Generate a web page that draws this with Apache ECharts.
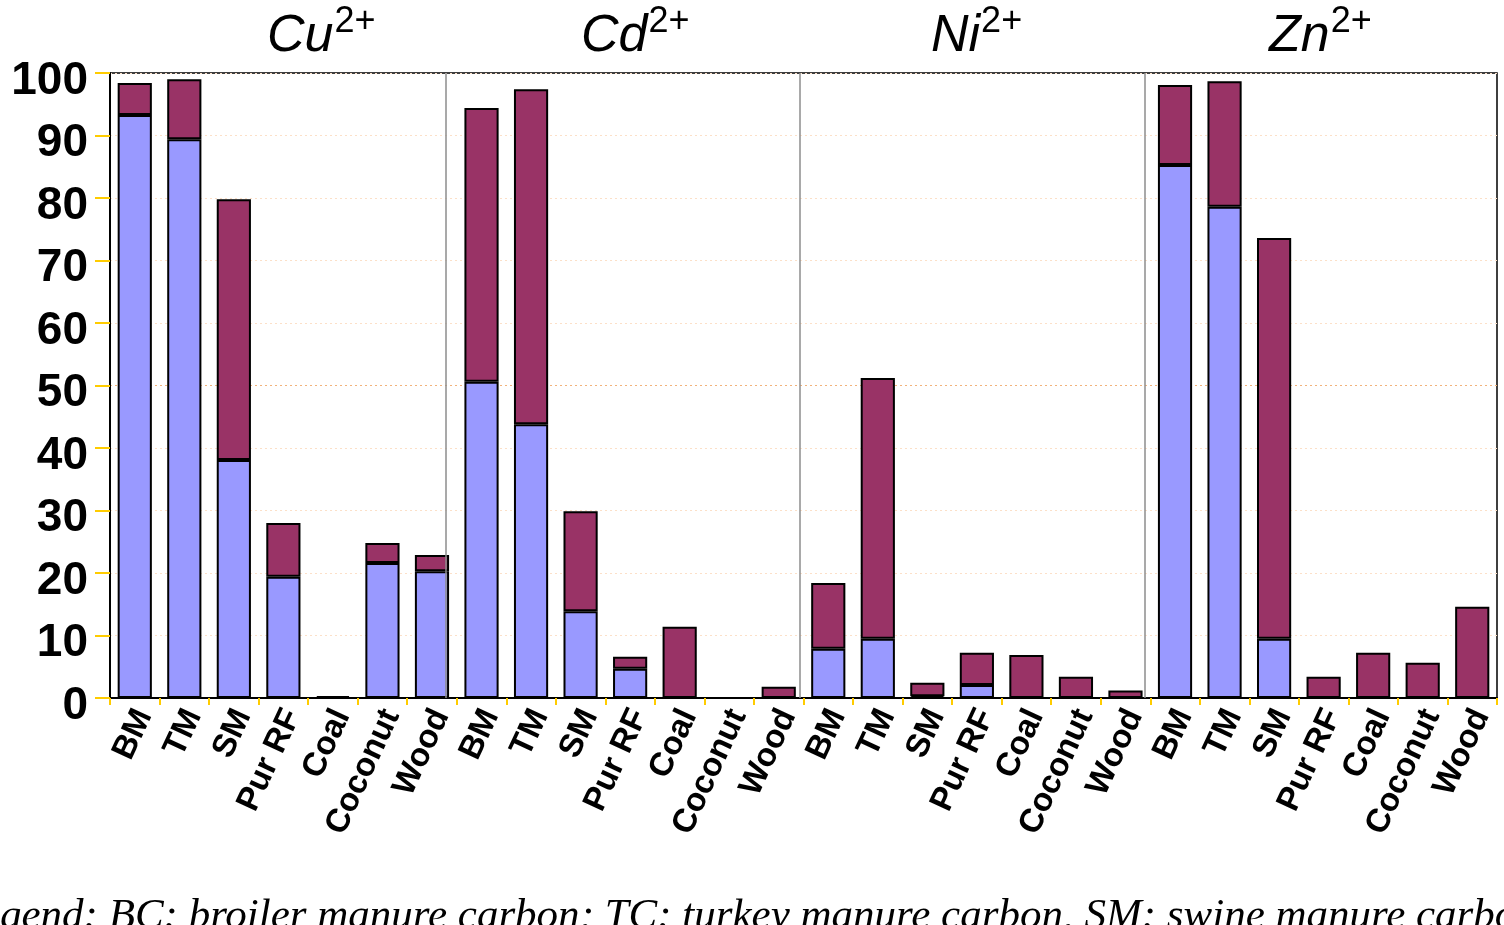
<!DOCTYPE html>
<html><head><meta charset="utf-8">
<script src="https://cdn.jsdelivr.net/npm/echarts@6/dist/echarts.min.js"></script>
<style>html,body{margin:0;padding:0;background:#fff;overflow:hidden}#c{width:1504px;height:925px;}</style>
</head><body><div id="c"></div>
<script>
// ---- data ----
const adsorbents = ['BM','TM','SM','Pur RF','Coal','Coconut','Wood'];
const ions = ['Cu','Cd','Ni','Zn'];
const categories = [].concat(adsorbents, adsorbents, adsorbents, adsorbents);
// lower (blue) part of each stacked bar
const lowerCu = [93.3, 89.4, 38.1, 19.4, 0, 21.6, 20.3];
const lowerCd = [50.6, 43.8, 13.9, 4.7, 0, 0, 0];
const lowerNi = [7.9, 9.5, 0.3, 2.1, 0, 0, 0];
const lowerZn = [85.3, 78.6, 9.5, 0, 0, 0, 0];
// upper (maroon) part of each stacked bar
const upperCu = [5.1, 9.6, 41.7, 8.6, 0.3, 3.2, 2.6];
const upperCd = [43.8, 53.6, 16.0, 1.9, 11.4, 0, 1.8];
const upperNi = [10.5, 41.7, 2.15, 5.15, 6.9, 3.4, 1.2];
const upperZn = [12.8, 20.1, 64.1, 3.4, 7.25, 5.65, 14.6];
const yTickLabels = [0,10,20,30,40,50,60,70,80,90,100];
const legendText = 'Legend: BC: broiler manure carbon; TC: turkey manure carbon, SM: swine manure carbon';

const lowerValues = [].concat(lowerCu, lowerCd, lowerNi, lowerZn);
const upperValues = [].concat(upperCu, upperCd, upperNi, upperZn);

// ---- layout / style ----
const separatorPos = [6.78, 13.93, 20.89];
const titleLeft = [262, 576, 926, 1264];
const gridColors = yTickLabels.map(v => v === 50 ? '#F2B27A' : '#FCE0C8');

const chart = echarts.init(document.getElementById('c'), null, {renderer: 'canvas'});
chart.setOption({
  animation: false,
  backgroundColor: '#fff',
  grid: {left: 110, right: 7, top: 73, bottom: 227, show: true, borderColor: '#000', borderWidth: 1.5, backgroundColor: 'transparent'},
  title: ions.map((t, i) => ({
    text: '{a|' + t + '}{b|2+}',
    left: titleLeft[i], top: -4,
    textStyle: {
      fontWeight: 'normal',
      rich: {
        a: {fontFamily: 'Liberation Sans, Arial', fontStyle: 'italic', fontWeight: 'normal', fontSize: 52, lineHeight: 62, color: '#000', verticalAlign: 'bottom'},
        b: {fontFamily: 'Liberation Sans, Arial', fontWeight: 'normal', fontSize: 36, lineHeight: 44, color: '#000', verticalAlign: 'top', padding: [3,0,0,1]}
      }
    }
  })),
  xAxis: [{
    type: 'category',
    data: categories,
    axisLine: {show: true, lineStyle: {color: '#000', width: 2}},
    axisTick: {show: true, interval: 0, length: 7, lineStyle: {color: '#FFCC00', width: 2}},
    axisLabel: {interval: 0, rotate: 65, margin: 9, verticalAlign: 'top', lineHeight: 20, color: '#000', fontFamily: 'Liberation Sans, Arial', fontWeight: 'bold', fontSize: 33},
    splitLine: {show: false}
  }, {
    type: 'value', min: 0, max: 28, show: false
  }],
  yAxis: {
    type: 'value', min: 0, max: 100, interval: 10,
    axisLine: {show: true, lineStyle: {color: '#000', width: 2}},
    axisTick: {show: true, length: 15, lineStyle: {color: '#FFCC00', width: 2}},
    axisLabel: {margin: 22, color: '#000', fontFamily: 'Liberation Sans, Arial', fontWeight: 'bold', fontSize: 46,
      verticalAlign: 'top', lineHeight: 16, formatter: v => String(v)},
    splitLine: {show: true, lineStyle: {color: gridColors, type: [2, 3], width: 1.2}}
  },
  series: [{
    name: 'lower', type: 'bar', stack: 'total', data: lowerValues, barWidth: '69%',
    itemStyle: {color: '#9999FF', borderColor: '#000', borderWidth: 2}
  }, {
    name: 'upper', type: 'bar', stack: 'total', data: upperValues, barWidth: '69%',
    itemStyle: {color: '#993366', borderColor: '#000', borderWidth: 2}
  }, {
    name: 'sep', type: 'line', xAxisIndex: 1, data: [], silent: true,
    markLine: {symbol: 'none', silent: true, label: {show: false},
      lineStyle: {color: '#8C8C8C', width: 1.5, type: 'solid'},
      data: separatorPos.map(p => ({xAxis: p}))}
  }],
  graphic: [{
    type: 'text', left: -43, top: 895, silent: true,
    style: {text: legendText, font: 'italic 43px "Liberation Serif", "Times New Roman", serif', fill: '#000'}
  }]
});
</script></body></html>
